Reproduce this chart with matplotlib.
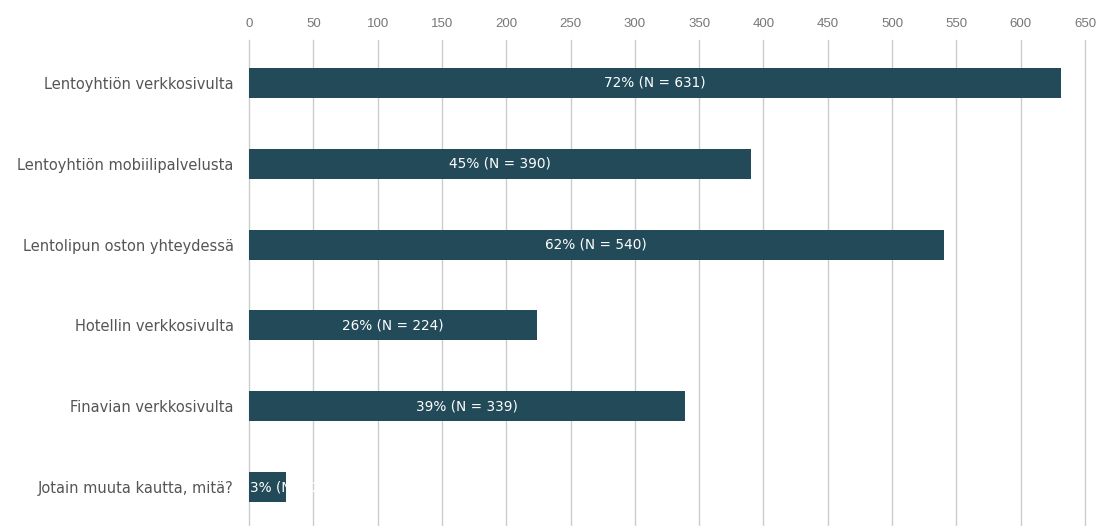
import matplotlib.pyplot as plt

plt.rcParams['font.family'] = ['DejaVu Sans']

# vastausvaihtoehdot, vastaajien määrä ja osuus
kanavat = ['Lentoyhtiön verkkosivulta', 'Lentoyhtiön mobiilipalvelusta',
           'Lentolipun oston yhteydessä', 'Hotellin verkkosivulta',
           'Finavian verkkosivulta', 'Jotain muuta kautta, mitä?']
maarat = [631, 390, 540, 224, 339, 29]
osuudet = [72, 45, 62, 26, 39, 3]
xtiks = list(range(0, 651, 50))

W, H = 1104, 526
fig = plt.figure(figsize=(W / 100, H / 100), dpi=100)
ax = fig.add_axes([249 / W, 0, (1085 - 249) / W, (526 - 40) / H])

palkin_vari = '#234a58'
y = list(range(len(kanavat)))
bars = ax.barh(y, maarat, height=0.37, color=palkin_vari, zorder=3)

ax.set_xlim(0, 650)
ax.set_ylim(5.48, -0.53)
ax.set_yticks(y)
ax.set_yticklabels(kanavat, fontsize=10.5, color='#555555')
ax.tick_params(axis='y', length=0, pad=11)

ax.xaxis.tick_top()
ax.set_xticks(xtiks)
ax.set_xticklabels([str(t) for t in xtiks], fontsize=9.5, color='#777777',
                   family='Liberation Sans')
ax.tick_params(axis='x', length=0, pad=7)
ax.grid(axis='x', color='#cccccc', linewidth=1, zorder=0)
for g in ax.get_xgridlines():
    g.set_clip_on(False)

for s in ax.spines.values():
    s.set_visible(False)

# arvot palkkien sisään, leikataan palkin reunaan
for b, n, p in zip(bars, maarat, osuudet):
    yc = b.get_y() + b.get_height() / 2
    t = ax.text(n / 2, yc, f'{p}% (N = {n})', ha='center', va='center',
                color='white', fontsize=9.8, zorder=4)
    if n < 100:
        t.set_position((1, yc))
        t.set_ha('left')
        t.set_clip_path(b)

fig.savefig('out.png', dpi=100)
